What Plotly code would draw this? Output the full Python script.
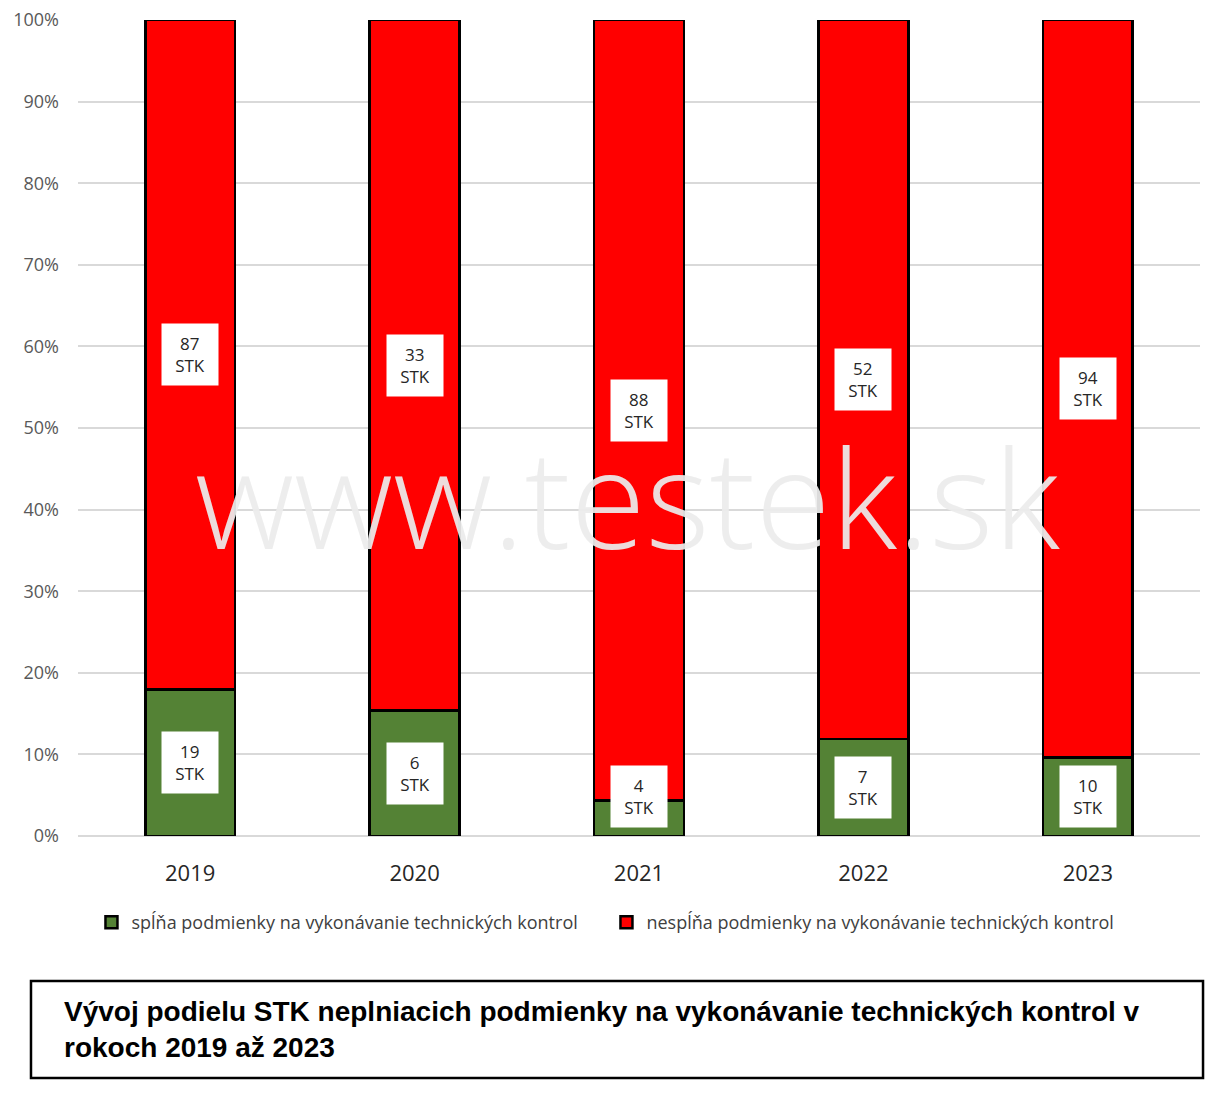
import plotly.graph_objects as go

years = ["2019", "2020", "2021", "2022", "2023"]
compliant = [19, 6, 4, 7, 10]
noncompliant = [87, 33, 88, 52, 94]
y_ticks = [0, 10, 20, 30, 40, 50, 60, 70, 80, 90, 100]
y_tick_labels = [f"{v}%" for v in y_ticks]
legend_names = ["spĺňa podmienky na vykonávanie technických kontrol",
                "nespĺňa podmienky na vykonávanie technických kontrol"]
title_text = ("<b>Vývoj podielu STK neplniacich podmienky na vykonávanie technických kontrol v"
              "<br>rokoch 2019 až 2023</b>")

GREEN = "#548235"
RED = "#FF0000"

fig = go.Figure()
fig.add_trace(go.Bar(x=years, y=compliant, name=legend_names[0],
                     marker=dict(color=GREEN, line=dict(color="black", width=2.5))))
fig.add_trace(go.Bar(x=years, y=noncompliant, name=legend_names[1],
                     marker=dict(color=RED, line=dict(color="black", width=2.5))))

# labels with white boxes (x given as category index)
annotations = []
for i, (c, n) in enumerate(zip(compliant, noncompliant)):
    tot = c + n
    pc = 100 * c / tot
    green_mid = max(pc / 2, 4.9)
    red_mid = pc + (100 - pc) / 2
    for val, ymid in ((c, green_mid), (n, red_mid)):
        annotations.append(dict(x=i, y=ymid, xref="x", yref="y", text=f"{val}<br>STK",
                                showarrow=False, bgcolor="white",
                                font=dict(family="Open Sans", size=17, color="#262626"),
                                borderpad=8, width=40))

# watermark
annotations.append(dict(x=0.49, y=0.417, xref="paper", yref="paper", text="www.testek.sk",
                        showarrow=False,
                        font=dict(family="Open Sans", size=137, color="rgba(236,236,236,0.93)", weight=300)))

# title
annotations.append(dict(x=-0.0143, y=-0.2377, xref="paper", yref="paper", text=title_text,
                        showarrow=False, xanchor="left", yanchor="middle", align="left",
                        font=dict(family="Liberation Sans", size=28, color="black")))

fig.update_layout(
    barmode="stack", barnorm="percent", bargap=0.6,
    width=1222, height=1095,
    margin=dict(l=78, r=22, t=20, b=259, autoexpand=False),
    plot_bgcolor="white", paper_bgcolor="white",
    showlegend=True,
    legend=dict(orientation="h", x=0.012, xanchor="left", y=-0.106, yanchor="middle",
                traceorder="normal",
                font=dict(family="Open Sans", size=18, color="#404040"),
                entrywidth=470, entrywidthmode="pixels", itemclick=False),
    annotations=annotations,
    shapes=[dict(type="rect", xref="paper", yref="paper", x0=-0.0419, x1=1.0027,
                 y0=-0.2966, y1=-0.1777, line=dict(color="black", width=2.5),
                 fillcolor="rgba(0,0,0,0)")],
)
fig.update_xaxes(type="category", range=[-0.5, 4.5], showgrid=False, showline=False,
                 zeroline=False, automargin=False,
                 tickfont=dict(family="Open Sans", size=22, color="#262626"),
                 ticklabelstandoff=22)
fig.update_yaxes(range=[0, 100], tickvals=y_ticks, ticktext=y_tick_labels, automargin=False,
                 showgrid=True, gridcolor="#d9d9d9", gridwidth=1.5, zeroline=True,
                 zerolinecolor="#d9d9d9", zerolinewidth=1.5, showline=False,
                 tickfont=dict(family="Open Sans", size=18, color="#595959"),
                 ticklabelstandoff=18)

fig.write_html("out.html", config={"displayModeBar": False},
               post_script="document.body.style.margin='0';")
